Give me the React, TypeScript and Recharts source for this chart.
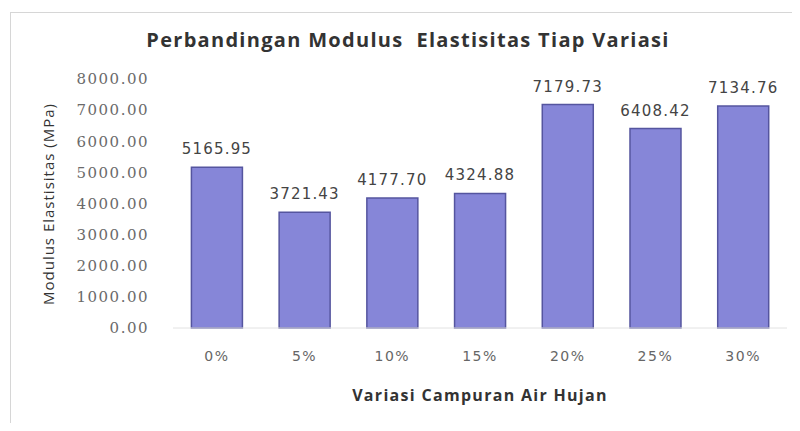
import { Bar, BarChart, LabelList, XAxis, YAxis } from "recharts";

const categories = ["0%", "5%", "10%", "15%", "20%", "25%", "30%"];
const modulus = [5165.95, 3721.43, 4177.7, 4324.88, 7179.73, 6408.42, 7134.76];
const yTicks = [0, 1000, 2000, 3000, 4000, 5000, 6000, 7000, 8000];

const data = categories.map((name, i) => ({ name, value: modulus[i] }));

const TITLE_FONT = "'Open Sans', sans-serif";
const NUM_FONT = "'DejaVu Sans', sans-serif";
const TICK_FONT = "'DejaVu Serif', serif";

export default function App() {
  return (
    <div
      style={{
        position: "relative",
        width: 792,
        height: 423,
        marginBottom: -8,
        overflow: "hidden",
        fontFamily: TITLE_FONT,
        background: "#fff",
      }}
    >
      <div
        style={{
          position: "absolute",
          left: 2,
          top: 4,
          width: 800,
          height: 418,
          border: "1px solid #d6d6d6",
          boxSizing: "border-box",
        }}
      />
      <div
        style={{
          position: "absolute",
          left: 400,
          top: 31,
          transform: "translate(-50%, -50%)",
          whiteSpace: "nowrap",
          fontSize: 20,
          letterSpacing: 1.3,
          fontWeight: 700,
          color: "#333",
        }}
      >
        Perbandingan Modulus&nbsp; Elastisitas Tiap Variasi
      </div>
      <div
        style={{
          position: "absolute",
          left: 40,
          top: 196,
          transform: "translate(-50%, -50%) rotate(-90deg)",
          whiteSpace: "nowrap",
          fontSize: 15,
          letterSpacing: 1,
          color: "#333",
        }}
      >
        Modulus Elastisitas (MPa)
      </div>
      <div
        style={{
          position: "absolute",
          left: 472,
          top: 387,
          transform: "translate(-50%, -50%)",
          whiteSpace: "nowrap",
          fontSize: 16,
          letterSpacing: 1.3,
          fontWeight: 700,
          color: "#333",
        }}
      >
        Variasi Campuran Air Hujan
      </div>
      <div style={{ position: "absolute", left: 0, top: 0 }}>
        <BarChart
          width={784}
          height={415}
          data={data}
          margin={{ top: 71, right: 5, bottom: 65, left: 85 }}
          barCategoryGap="21%"
        >
          <XAxis
            dataKey="name"
            tickLine={false}
            tickSize={0}
            tickMargin={23}
            axisLine={{ stroke: "#e2e2e2" }}
            tick={{ fill: "#666", fontSize: 14, fontFamily: NUM_FONT, letterSpacing: 1.5 }}
          />
          <YAxis
            width={80}
            domain={[0, 8000]}
            ticks={yTicks}
            axisLine={false}
            tickLine={false}
            tickSize={0}
            tickMargin={24}
            tickFormatter={(v: number) => v.toFixed(2)}
            tick={{ fill: "#6a6a6a", fontSize: 15, fontFamily: TICK_FONT, letterSpacing: 1.5 }}
          />
          <Bar
            dataKey="value"
            fill="#8686d8"
            stroke="#55559f"
            strokeWidth={1.5}
            isAnimationActive={false}
          >
            <LabelList
              dataKey="value"
              position="top"
              offset={13}
              formatter={(v: number) => v.toFixed(2)}
              style={{ fill: "#444", fontSize: 15, fontFamily: NUM_FONT, letterSpacing: 1.2 }}
            />
          </Bar>
        </BarChart>
      </div>
    </div>
  );
}
